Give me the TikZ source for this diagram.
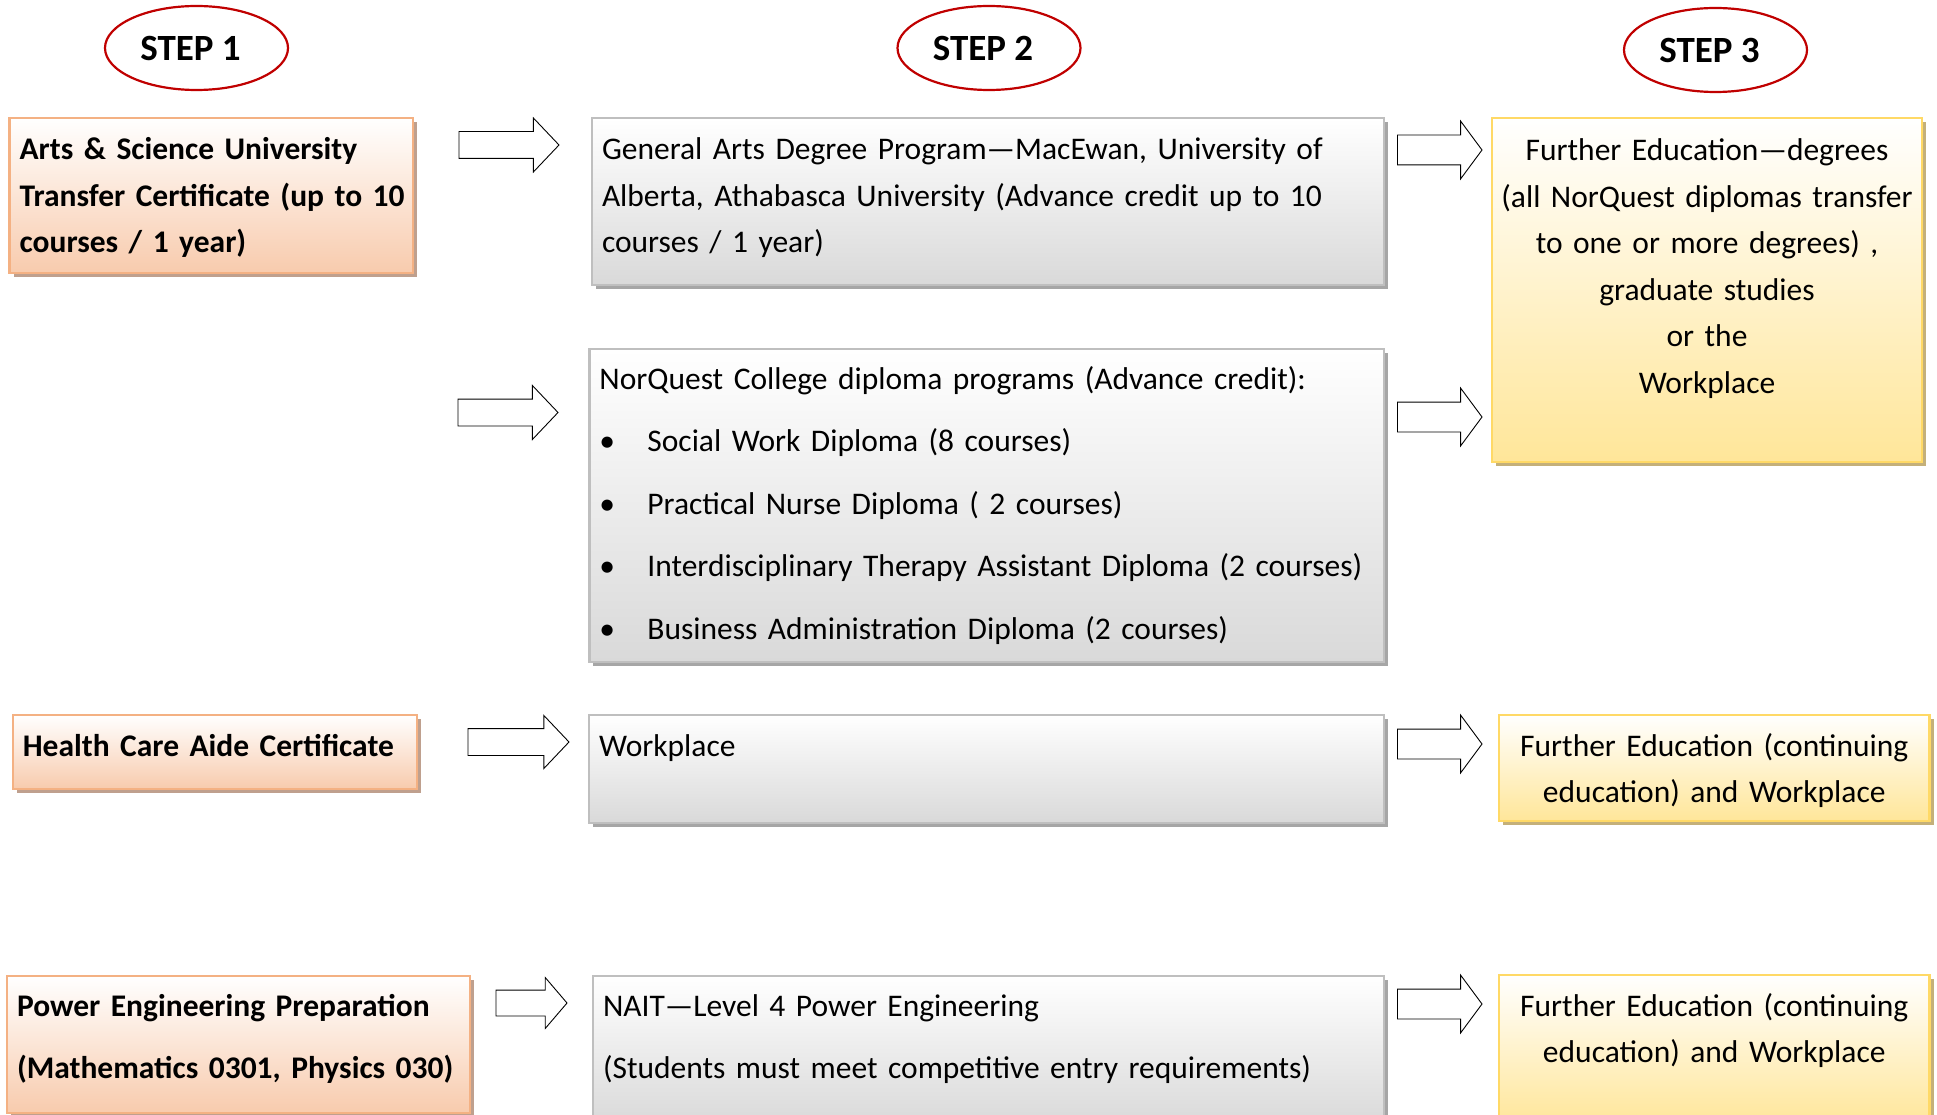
\documentclass[tikz,border=0pt]{standalone}
\usepackage{fontspec}
\setmainfont{Carlito}
\usepackage{tikz}
\definecolor{stepred}{HTML}{C00000}
\definecolor{orangeline}{HTML}{F4B183}
\definecolor{orangefill}{HTML}{F8CBAD}
\definecolor{orangeshadow}{HTML}{BFA08E}
\definecolor{grayline}{HTML}{BFBFBF}
\definecolor{grayfill}{HTML}{D9D9D9}
\definecolor{grayshadow}{HTML}{A6A6A6}
\definecolor{yellowline}{HTML}{FFD966}
\definecolor{yellowfill}{HTML}{FFE699}
\definecolor{yellowshadow}{HTML}{C4B07A}
\usetikzlibrary{shapes, shadows}
\newcommand{\bodyfont}{\fontsize{31.5pt}{46.5pt}\selectfont}
\newcommand{\widefont}{\fontsize{31.5pt}{62.5pt}\selectfont}
\newcommand{\bitem}{\makebox[48pt][l]{\textbullet}}
\tikzstyle{stepoval} = [draw=stepred, line width=2.2pt, ellipse, fill=white, minimum width=183pt, minimum height=84pt, inner sep=0pt, font=\fontsize{37pt}{44pt}\selectfont\bfseries, execute at end node={\hspace{12pt}}]
\tikzstyle{box} = [rectangle, anchor=north west, inner xsep=10pt, inner ysep=0pt, outer sep=0pt, line width=2.5pt, align=left, font=\bodyfont]
\tikzstyle{certbox} = [box, draw=orangeline, top color=white, bottom color=orangefill, drop shadow={shadow xshift=4pt, shadow yshift=-4pt, fill=orangeshadow, opacity=1}, font=\bodyfont\bfseries]
\tikzstyle{progbox} = [box, draw=grayline, top color=white, bottom color=grayfill, drop shadow={shadow xshift=4pt, shadow yshift=-4pt, fill=grayshadow, opacity=1}]
\tikzstyle{nextbox} = [box, draw=yellowline, top color=white, bottom color=yellowfill, drop shadow={shadow xshift=4pt, shadow yshift=-4pt, fill=yellowshadow, opacity=1}, inner xsep=3pt, align=center]
\tikzstyle{bigarrow} = [single arrow, draw=black, fill=white, line width=0.9pt, anchor=tip, inner xsep=0pt, inner ysep=13pt, outer sep=0pt, minimum height=100pt, single arrow head extend=13.5pt, single arrow tip angle=93]
\tikzstyle{shortarrow} = [bigarrow, minimum height=84.5pt, inner ysep=14.5pt, single arrow head extend=14pt, single arrow tip angle=107]

\begin{document}
\begin{tikzpicture}[x=1pt, y=-1pt]
    \useasboundingbox (0,0) rectangle (1937,1115);

    % Place the steps
    \node [stepoval] (step1) at (196.5,48) {STEP 1};
    \node [stepoval] (step2) at (989,48) {STEP 2};
    \node [stepoval] (step3) at (1715.5,50) {STEP 3};

    % Place the blocks
    \node [certbox, text width=383.4pt, text height=42pt, text depth=113pt] (arts) at (9.6,118)
        {Arts \& Science University\\ \mbox{Transfer Certificate (up to 10}\\ courses / 1 year)};
    \node [progbox, text width=772pt, text height=42pt, text depth=125pt] (general) at (592,118)
        {General Arts Degree Program—MacEwan, University of\\ Alberta, Athabasca University (Advance credit up to 10\\ courses / 1 year)};
    \node [nextbox, text width=424pt, text height=43pt, text depth=301pt] (degrees) at (1492,118)
        {Further Education—degrees\\ (all NorQuest diplomas transfer\\ to one or more degrees) ,\\ graduate studies\\ or the\\ Workplace};
    \node [progbox, font=\widefont, text width=774.6pt, text height=40pt, text depth=273pt] (diploma) at (589.4,349)
        {NorQuest College diploma programs (Advance credit):\\
         \bitem Social Work Diploma (8 courses)\\
         \bitem Practical Nurse Diploma ( 2 courses)\\
         \bitem Interdisciplinary Therapy Assistant Diploma (2 courses)\\
         \bitem Business Administration Diploma (2 courses)};
    \node [certbox, text width=384.2pt, text height=41pt, text depth=33pt] (health) at (12.8,715)
        {Health Care Aide Certificate};
    \node [progbox, text width=775pt, text height=41pt, text depth=67pt] (work) at (589,715)
        {Workplace};
    \node [nextbox, text width=424.5pt, text height=41pt, text depth=65pt] (contA) at (1499,715)
        {Further Education (continuing\\ education) and Workplace};
    \node [certbox, font=\widefont\bfseries, text width=443pt, text height=40pt, text depth=97pt] (power) at (7,976)
        {Power Engineering Preparation\\ (Mathematics 0301, Physics 030)};
    \node [progbox, font=\widefont, text width=771pt, text height=40pt, text depth=109pt] (nait) at (593,976)
        {NAIT—Level 4 Power Engineering\\ (Students must meet competitive entry requirements)};
    \node [nextbox, text width=424.5pt, text height=41pt, text depth=109pt] (contB) at (1499,975)
        {Further Education (continuing\\ education) and Workplace};

    % Place the arrows
    \node [bigarrow] (arr1) at (559,145) {};
    \node [bigarrow] (arr2) at (558,412.5) {};
    \node [bigarrow, minimum height=101pt, single arrow head extend=13pt] (arr3) at (569,742) {};
    \node [bigarrow, minimum height=71pt, inner ysep=12.5pt, single arrow head extend=12.5pt, single arrow tip angle=99] (arr4) at (567,1003) {};
    \node [shortarrow] (arr5) at (1482,150) {};
    \node [shortarrow] (arr6) at (1482,417) {};
    \node [shortarrow] (arr7) at (1482,744) {};
    \node [shortarrow] (arr8) at (1482,1004) {};
\end{tikzpicture}
\end{document}
